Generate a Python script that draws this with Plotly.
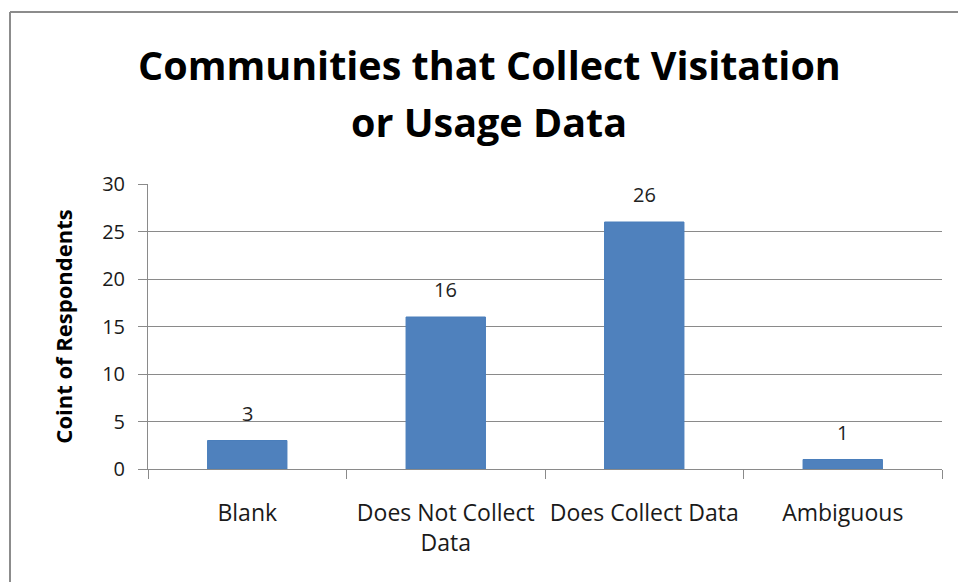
import plotly.graph_objects as go

categories = ["Blank", "Does Not Collect<br>Data", "Does Collect Data", "Ambiguous"]
counts = [3, 16, 26, 1]
y_ticks = [0, 5, 10, 15, 20, 25, 30]
title_lines = ["Communities that Collect Visitation", "or Usage Data"]
y_title = "Coint of Respondents"

W, H = 958, 582
L, R, T, B = 148, 16, 184, 113
pw, ph = W - L - R, H - T - B

def px_x(x):
    return (x - L) / pw

def px_y(y):
    return (H - B - y) / ph

FONT = "Open Sans"

fig = go.Figure()
fig.add_trace(go.Bar(
    x=categories, y=counts,
    marker=dict(color="#4F81BD", line=dict(color="#4A7EBB", width=1)),
    width=0.4, hoverinfo="skip",
))

for c, v in zip(categories, counts):
    fig.add_annotation(x=c, y=v, text=str(v), showarrow=False, xref="x", yref="y",
                       yanchor="bottom", yshift=12,
                       font=dict(family=FONT, size=20, color="#222"))

for line, yc in zip(title_lines, [65, 122]):
    fig.add_annotation(text=line, xref="paper", yref="paper",
                       x=px_x(489), y=px_y(yc), xanchor="center", yanchor="middle",
                       showarrow=False,
                       font=dict(family=FONT, size=39.5, color="#000", weight="bold"))

# chart border (top and left edges visible)
border = dict(color="#8c8c8c", width=2)
fig.add_shape(type="line", xref="paper", yref="paper", x0=px_x(10), x1=px_x(960),
              y0=px_y(12), y1=px_y(12), line=border)
fig.add_shape(type="line", xref="paper", yref="paper", x0=px_x(10), x1=px_x(10),
              y0=px_y(12), y1=px_y(590), line=border)

fig.update_layout(
    width=W, height=H,
    margin=dict(l=L, r=R, t=T, b=B, autoexpand=False),
    paper_bgcolor="white", plot_bgcolor="white",
    showlegend=False,
    font=dict(family=FONT, color="#1a1a1a"),
)
fig.update_yaxes(
    range=[0, 30], tickvals=y_ticks, showgrid=True, gridcolor="#8a8a8a", gridwidth=1,
    showline=True, linecolor="#8a8a8a", linewidth=1,
    ticks="outside", ticklen=9, tickcolor="#8a8a8a",
    tickfont=dict(size=20, color="#1a1a1a"), ticklabelstandoff=9,
    zeroline=False,
    title=dict(text=y_title, font=dict(size=22, color="#000", weight="bold"), standoff=23),
)
fig.update_xaxes(
    showline=True, linecolor="#8a8a8a", linewidth=1,
    ticks="outside", ticklen=9, tickcolor="#8a8a8a", tickson="boundaries",
    tickfont=dict(size=23, color="#1a1a1a"), ticklabelstandoff=23,
    showgrid=False,
)

fig.write_html("out.html", config={"displayModeBar": False},
               post_script="document.body.style.margin='0';document.body.style.overflow='hidden';")
